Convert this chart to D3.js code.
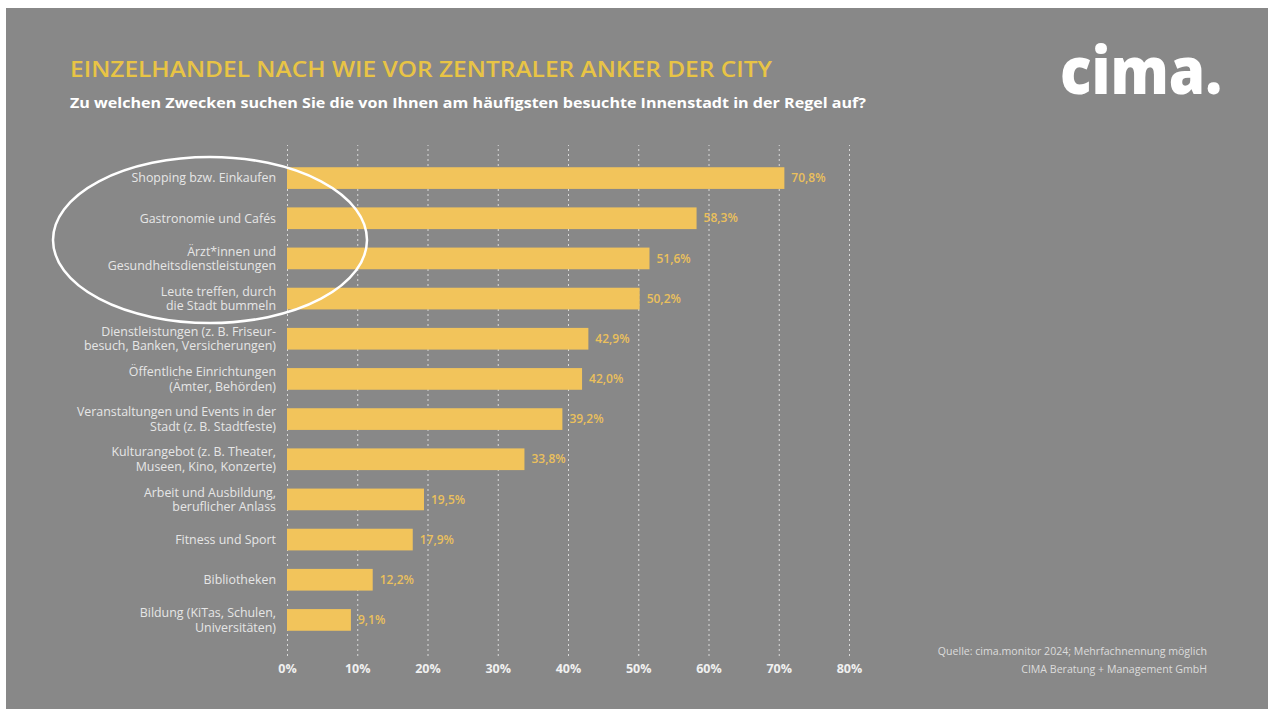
<!DOCTYPE html>
<html>
<head>
<meta charset="utf-8">
<script src="https://cdn.jsdelivr.net/npm/d3@7"></script>
<style>
  html, body { margin: 0; padding: 0; background: #fff; }
  svg { display: block; }
</style>
</head>
<body>
<script>
const width = 1268;
const height = 709;

const categories = [
  'Shopping bzw. Einkaufen',
  'Gastronomie und Cafés',
  'Ärzt*innen und\nGesundheitsdienstleistungen',
  'Leute treffen, durch\ndie Stadt bummeln',
  'Dienstleistungen (z. B. Friseur-\nbesuch, Banken, Versicherungen)',
  'Öffentliche Einrichtungen\n(Ämter, Behörden)',
  'Veranstaltungen und Events in der\nStadt (z. B. Stadtfeste)',
  'Kulturangebot (z. B. Theater,\nMuseen, Kino, Konzerte)',
  'Arbeit und Ausbildung,\nberuflicher Anlass',
  'Fitness und Sport',
  'Bibliotheken',
  'Bildung (KiTas, Schulen,\nUniversitäten)'
];
const values = [70.8, 58.3, 51.6, 50.2, 42.9, 42.0, 39.2, 33.8, 19.5, 17.9, 12.2, 9.1];
const ticks = [0, 10, 20, 30, 40, 50, 60, 70, 80];

const title = 'EINZELHANDEL NACH WIE VOR ZENTRALER ANKER DER CITY';
const subtitle = 'Zu welchen Zwecken suchen Sie die von Ihnen am häufigsten besuchte Innenstadt in der Regel auf?';
const sourceLines = ['Quelle: cima.monitor 2024; Mehrfachnennung möglich', 'CIMA Beratung + Management GmbH'];

const gray = '#888888';
const yellow = '#f2c45b';
const font = '"Open Sans", "Noto Sans", sans-serif';

const svg = d3.select('body').append('svg').attr('width', width).attr('height', height);

// panel with thin white margin top/left
svg.append('rect').attr('x', 6).attr('y', 8).attr('width', width - 6).attr('height', height - 8).attr('fill', gray);

const x = d3.scaleLinear().domain([0, 80]).range([287, 849]);
const y = d3.scaleBand().domain(categories).range([158, 640]).paddingInner(0.46).paddingOuter(0.23);

// grid + axis
const axis = svg.append('g')
  .attr('transform', 'translate(0,656)')
  .call(d3.axisBottom(x).tickValues(ticks).tickSize(-511).tickPadding(8).tickFormat(d => d + '%'));
axis.select('.domain').remove();
axis.selectAll('line')
  .attr('stroke', '#e8e8e8')
  .attr('stroke-width', 1)
  .attr('stroke-dasharray', '2,3')
  .attr('opacity', 0.85);
axis.selectAll('text')
  .attr('fill', '#f0f0f0')
  .style('font-family', font)
  .style('font-size', '12.5px')
  .style('font-weight', 700);

// bars
svg.append('g')
  .selectAll('rect')
  .data(values)
  .enter()
  .append('rect')
  .attr('x', x(0))
  .attr('y', (d, i) => y(categories[i]))
  .attr('width', d => x(d) - x(0))
  .attr('height', y.bandwidth())
  .attr('fill', yellow);

// value labels
svg.append('g')
  .selectAll('text')
  .data(values)
  .enter()
  .append('text')
  .attr('x', d => x(d) + 7)
  .attr('y', (d, i) => y(categories[i]) + y.bandwidth() / 2)
  .attr('dy', '0.35em')
  .attr('fill', '#ebc05c')
  .style('font-family', font)
  .style('font-size', '12px')
  .style('font-weight', 600)
  .text(d => d.toFixed(1).replace('.', ',') + '%');

// category labels
const labels = svg.append('g')
  .selectAll('text')
  .data(categories)
  .enter()
  .append('text')
  .attr('text-anchor', 'end')
  .attr('fill', '#e6e6e6')
  .style('font-family', font)
  .style('font-size', '12.4px');

labels.each(function(d) {
  const lines = d.split('\n');
  const cy = y(d) + y.bandwidth() / 2;
  const lh = 14.5;
  d3.select(this).selectAll('tspan')
    .data(lines)
    .enter()
    .append('tspan')
    .attr('x', 276)
    .attr('y', (_, i) => cy + (i - (lines.length - 1) / 2) * lh)
    .attr('dy', '0.35em')
    .text(t => t);
});

// title, subtitle
svg.append('text')
  .attr('x', 70).attr('y', 77)
  .attr('fill', '#e8c445')
  .attr('textLength', 702).attr('lengthAdjust', 'spacingAndGlyphs')
  .style('font-family', font).style('font-size', '22px').style('font-weight', 600)
  .text(title);

svg.append('text')
  .attr('x', 70).attr('y', 108)
  .attr('fill', '#ffffff')
  .attr('textLength', 796).attr('lengthAdjust', 'spacingAndGlyphs')
  .style('font-family', font).style('font-size', '15px').style('font-weight', 700)
  .text(subtitle);

// logo
svg.append('text')
  .attr('x', 1060).attr('y', 94)
  .attr('fill', '#ffffff')
  .attr('textLength', 162).attr('lengthAdjust', 'spacingAndGlyphs')
  .style('font-family', font).style('font-size', '66px').style('font-weight', 800)
  .text('cima.');

// ellipse highlight
svg.append('ellipse')
  .attr('cx', 210).attr('cy', 240).attr('rx', 157).attr('ry', 83)
  .attr('fill', 'none').attr('stroke', '#ffffff').attr('stroke-width', 2.5);

// source
svg.append('g')
  .selectAll('text')
  .data(sourceLines)
  .enter()
  .append('text')
  .attr('x', 1207)
  .attr('y', (_, i) => 655 + i * 18)
  .attr('text-anchor', 'end')
  .attr('fill', '#dcdcdc')
  .style('font-family', font)
  .style('font-size', '10.6px')
  .text(d => d);
</script>
</body>
</html>
